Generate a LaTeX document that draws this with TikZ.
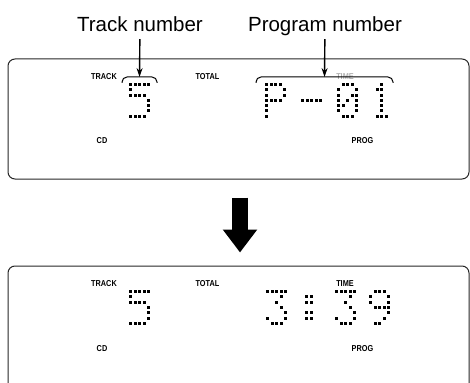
\documentclass[tikz,border=0pt]{standalone}
\usepackage{fontspec}
\setmainfont{Liberation Sans}
\newfontfamily\lcdfont[FakeStretch=0.85]{Liberation Sans}
\usetikzlibrary{ arrows.meta, % For the pointer and the big arrow
                 positioning,
               }
\tikzstyle{display} = [draw=black!85, line width=1pt, rounded corners=7pt, inner sep=0pt]
\tikzstyle{caption} = [font=\fontsize{20.5}{24}\selectfont, text depth=0pt, inner ysep=7pt, anchor=base]
\tikzstyle{indicator} = [font=\lcdfont\bfseries\fontsize{8.6}{9}\selectfont, inner sep=0pt]
\tikzstyle{pointer} = [-{Stealth[length=9pt,width=6pt]}, line width=1.4pt]
\tikzstyle{bigarrow} = [line width=16pt, -{Triangle[length=23pt,width=33pt]}, shorten <=18pt, shorten >=13pt]
\tikzstyle{brace} = [line width=1pt, rounded corners=5pt]

% one 5x7 dot matrix character: x, y of the top left dot, rows as bits
\newcommand{\lcdglyph}[3]{%
  \foreach \rowbits [count=\r from 0] in {#3} {
    \foreach \c in {0,...,4} {
      \pgfmathtruncatemacro{\on}{mod(floor(\rowbits/2^(4-\c)),2)}
      \ifnum\on=1 \fill ({#1+\c*4.5},{#2+\r*5.3}) rectangle ++(3,3); \fi
    }
  }}

\begin{document}
\begin{tikzpicture}[x=1pt, y=-1pt]
  \useasboundingbox (0,0) rectangle (470,382);

  \node (tracklbl) [caption] at (140,32) {Track number};
  \node (proglbl) [caption] at (325,32) {Program number};

  % upper display, programme step
  \node (disp1) [display, minimum width=461pt, minimum height=120pt] at (238.5,119) {};
  \node (track1) [indicator] at (104,77) {TRACK};
  \node (total1) [indicator] at (207.5,77) {TOTAL};
  \node (time1) [indicator, text=black!30] at (345,77) {TIME};
  \node (cd1) [indicator] at (102,140.5) {CD};
  \node (prog1) [indicator] at (362.5,141) {PROG};

  \draw[brace] (122,83) -- (122,77) -- (157,77) -- (157,83);
  \coordinate (trackbrace) at (139.5,77);
  \draw[brace] (256,83) -- (256,77) -- (393,77) -- (393,83);
  \coordinate (progbrace) at (324.5,77);
  \draw[pointer] (tracklbl) -- (trackbrace);
  \draw[pointer] (proglbl) -- (progbrace);

  \lcdglyph{129}{83}{0b11111,0b10000,0b11110,0b00001,0b00001,0b00001,0b11110}
  \lcdglyph{265}{83}{0b11110,0b10001,0b10001,0b11110,0b10000,0b10000,0b10000}
  \lcdglyph{301}{83}{0b00000,0b00000,0b00000,0b11111,0b00000,0b00000,0b00000}
  \lcdglyph{337}{83}{0b01110,0b10001,0b10011,0b10101,0b11001,0b10001,0b01110}
  \lcdglyph{371}{83}{0b00100,0b01100,0b00100,0b00100,0b00100,0b00100,0b01110}

  % lower display, playing time
  \node (disp2) [display, minimum width=461pt, minimum height=130pt] at (238.5,331) {};
  \node (track2) [indicator] at (104,284) {TRACK};
  \node (total2) [indicator] at (207.5,284) {TOTAL};
  \node (time2) [indicator] at (345,283.5) {TIME};
  \node (cd2) [indicator] at (102,348.5) {CD};
  \node (prog2) [indicator] at (362.5,349) {PROG};

  \lcdglyph{129}{290}{0b11111,0b10000,0b11110,0b00001,0b00001,0b00001,0b11110}
  \lcdglyph{266}{290}{0b11111,0b00010,0b00100,0b00010,0b00001,0b10001,0b01110}
  \lcdglyph{305}{290}{0b00000,0b11000,0b11000,0b00000,0b11000,0b11000,0b00000}
  \lcdglyph{335}{290}{0b11111,0b00010,0b00100,0b00010,0b00001,0b10001,0b01110}
  \lcdglyph{369}{290}{0b01110,0b10001,0b10001,0b01111,0b00001,0b00010,0b01100}

  \draw[bigarrow] ([xshift=1.5pt]disp1.south) -- ([xshift=1.5pt]disp2.north);
\end{tikzpicture}
\end{document}
